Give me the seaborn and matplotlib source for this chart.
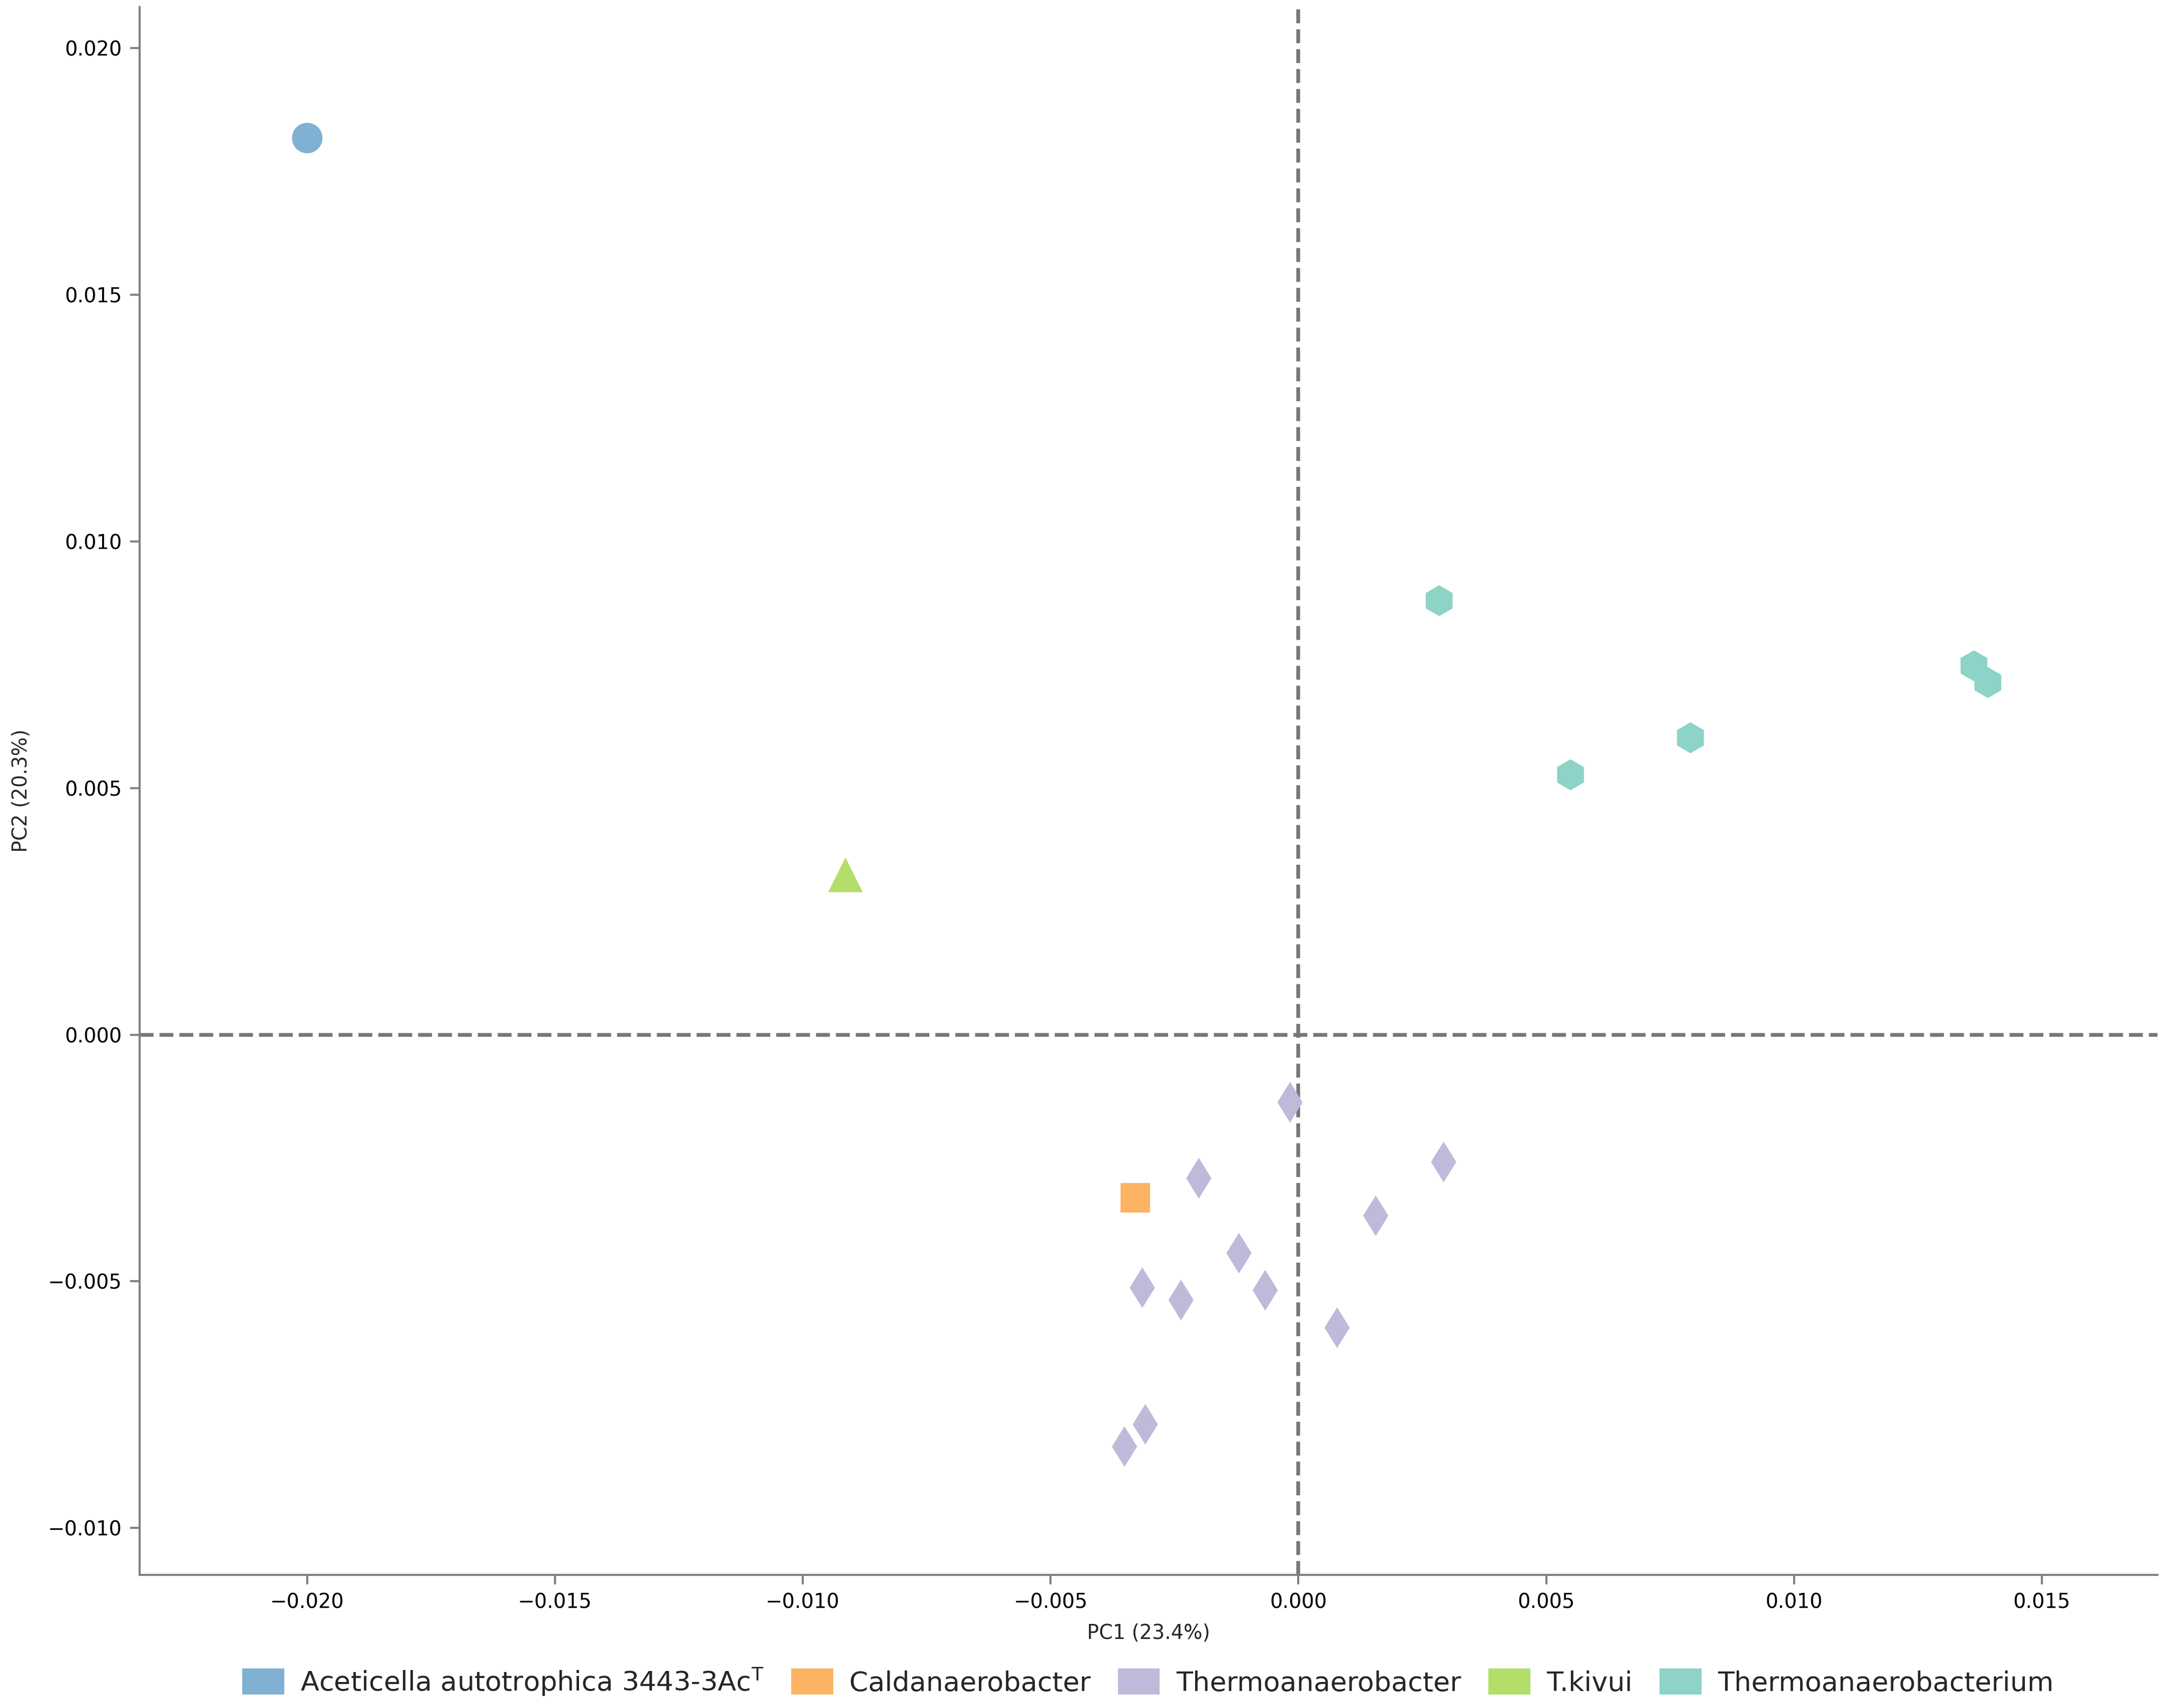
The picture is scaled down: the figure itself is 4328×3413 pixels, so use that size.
import numpy as np
import pandas as pd
import seaborn as sns
import matplotlib
matplotlib.use("Agg")
import matplotlib.pyplot as plt
from matplotlib.patches import Patch

# ---- data ----
groups = ["Aceticella autotrophica 3443-3Ac$^{\\mathrm{T}}$", "Caldanaerobacter",
          "Thermoanaerobacter", "T.kivui", "Thermoanaerobacterium"]

acet_pc1 = [-0.0200]
acet_pc2 = [0.01818]

cald_pc1 = [-0.00329]
cald_pc2 = [-0.00331]

thermoanaerobacter_pc1 = [-0.00017, -0.00201, 0.00293, 0.00156, -0.00120, -0.00315,
                          -0.00237, -0.00067, 0.00078, -0.00309, -0.00351]
thermoanaerobacter_pc2 = [-0.00137, -0.00291, -0.00258, -0.00367, -0.00443, -0.00513,
                          -0.00538, -0.00518, -0.00594, -0.00790, -0.00835]

tkivui_pc1 = [-0.00914]
tkivui_pc2 = [0.00324]

thermoanaerobacterium_pc1 = [0.00284, 0.00549, 0.00791, 0.01363, 0.01391]
thermoanaerobacterium_pc2 = [0.00880, 0.00527, 0.00602, 0.00748, 0.00714]

xlabel = "PC1 (23.4%)"
ylabel = "PC2 (20.3%)"

# ---- styles ----
colors = ["#80b1d3", "#fdb462", "#bebada", "#b3de69", "#8dd3c7"]
diamond = [(0.0, 1.0), (0.62, 0.0), (0.0, -1.0), (-0.62, 0.0), (0.0, 1.0)]
group_markers = ["o", "s", diamond, "^", "h"]
group_sizes = [214, 200, 380, 275, 220]

pc1_lists = [acet_pc1, cald_pc1, thermoanaerobacter_pc1, tkivui_pc1, thermoanaerobacterium_pc1]
pc2_lists = [acet_pc2, cald_pc2, thermoanaerobacter_pc2, tkivui_pc2, thermoanaerobacterium_pc2]

rows = []
for g, xs, ys in zip(groups, pc1_lists, pc2_lists):
    for x, y in zip(xs, ys):
        rows.append({"PC1": x, "PC2": y, "Group": g})
df = pd.DataFrame(rows)

# ---- plot ----
sns.set_theme(style="white")
plt.rcParams["font.family"] = ["DejaVu Sans"]

fig = plt.figure(figsize=(4328 / 300, 3413 / 300), dpi=300)
ax = fig.add_axes([0.0645, 0.078, 0.9315, 0.918])

ax.axhline(0, color="#777777", lw=1.8, ls="--", zorder=1)
ax.axvline(0, color="#777777", lw=1.8, ls="--", zorder=1)

sns.scatterplot(data=df, x="PC1", y="PC2", hue="Group", style="Group", size="Group",
                hue_order=groups, style_order=groups, size_order=groups,
                palette=dict(zip(groups, colors)),
                markers=dict(zip(groups, group_markers)),
                sizes=dict(zip(groups, group_sizes)),
                linewidth=0, legend=False, ax=ax, zorder=3)

ax.set_xlim(-0.02338, 0.01733)
ax.set_ylim(-0.01095, 0.02084)
ax.set_xticks([-0.020, -0.015, -0.010, -0.005, 0.0, 0.005, 0.010, 0.015])
ax.set_yticks([-0.010, -0.005, 0.0, 0.005, 0.010, 0.015, 0.020])
fmt = matplotlib.ticker.FuncFormatter(lambda v, p: f"{v:.3f}".replace("-", "\u2212"))
ax.xaxis.set_major_formatter(fmt)
ax.yaxis.set_major_formatter(fmt)

for side in ["top", "right"]:
    ax.spines[side].set_visible(False)
for side in ["left", "bottom"]:
    ax.spines[side].set_color("#808080")
    ax.spines[side].set_linewidth(1.0)

ax.tick_params(axis="both", which="major", direction="out", length=4.5, width=1.0,
               color="#808080", labelcolor="black", labelsize=9.6, pad=4,
               bottom=True, left=True)
ax.set_xlabel(xlabel, fontsize=9.5, labelpad=5)
ax.set_ylabel(ylabel, fontsize=9.5, labelpad=8)

handles = [Patch(facecolor=c, edgecolor="none", label=g) for g, c in zip(groups, colors)]
fig.legend(handles=handles, loc="lower center", bbox_to_anchor=(0.530, -0.008),
           ncol=5, frameon=False, fontsize=13, handlelength=1.55, handleheight=1.1,
           columnspacing=1.0, handletextpad=0.6)

fig.savefig("out.png", dpi=300)
